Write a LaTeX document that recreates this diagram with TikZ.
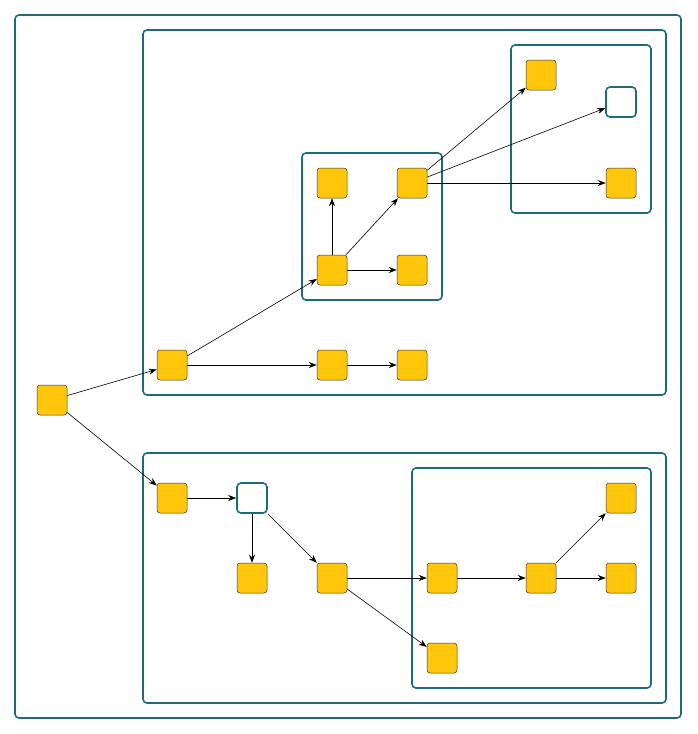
\documentclass[tikz,border=0pt]{standalone}
\usetikzlibrary{arrows.meta}
\definecolor{tl}{HTML}{1B6B7D}
\definecolor{yl}{HTML}{FFC60C}
\begin{document}
\begin{tikzpicture}[x=1pt,y=-1pt,
  box/.style={draw=tl,line width=1.6pt,rounded corners=4pt},
  n/.style={draw=black!80,fill=yl,minimum size=30pt,inner sep=0pt,rounded corners=3pt,line width=0.5pt},
  w/.style={draw=tl,fill=white,minimum size=30pt,inner sep=0pt,rounded corners=4pt,line width=1.6pt},
  a/.style={-{Stealth[length=8pt,width=6pt]},line width=0.6pt}]
\useasboundingbox (0,0) rectangle (697,734);
\draw[box] (15,15) rectangle (681,718);
\draw[box] (143,30) rectangle (666,395);
\draw[box] (302,153) rectangle (442,300);
\draw[box] (511,45) rectangle (651,213);
\draw[box] (143,453) rectangle (666,703);
\draw[box] (412,468) rectangle (651,688);
\node[n] (root) at (52,400) {};
\node[n] (A) at (172,365) {};
\node[n] (B) at (332,365) {};
\node[n] (C) at (412,365) {};
\node[n] (D) at (332,270) {};
\node[n] (E) at (412,270) {};
\node[n] (F) at (332,183) {};
\node[n] (G) at (412,183) {};
\node[n] (H) at (541,75) {};
\node[w] (I) at (621,102) {};
\node[n] (J) at (621,183) {};
\node[n] (K) at (172,498) {};
\node[w] (L) at (252,498) {};
\node[n] (M) at (252,578) {};
\node[n] (N) at (332,578) {};
\node[n] (O) at (442,578) {};
\node[n] (P) at (442,658) {};
\node[n] (Q) at (541,578) {};
\node[n] (R) at (621,498) {};
\node[n] (S) at (621,578) {};
\draw[a] (root) -- (A);
\draw[a] (root) -- (K);
\draw[a] (A) -- (B);
\draw[a] (B) -- (C);
\draw[a] (A) -- (D);
\draw[a] (D) -- (E);
\draw[a] (D) -- (F);
\draw[a] (D) -- (G);
\draw[a] (G) -- (H);
\draw[a] (G) -- (I);
\draw[a] (G) -- (J);
\draw[a] (K) -- (L);
\draw[a] (L) -- (M);
\draw[a] (L) -- (N);
\draw[a] (N) -- (O);
\draw[a] (N) -- (P);
\draw[a] (O) -- (Q);
\draw[a] (Q) -- (R);
\draw[a] (Q) -- (S);
\end{tikzpicture}
\end{document}
